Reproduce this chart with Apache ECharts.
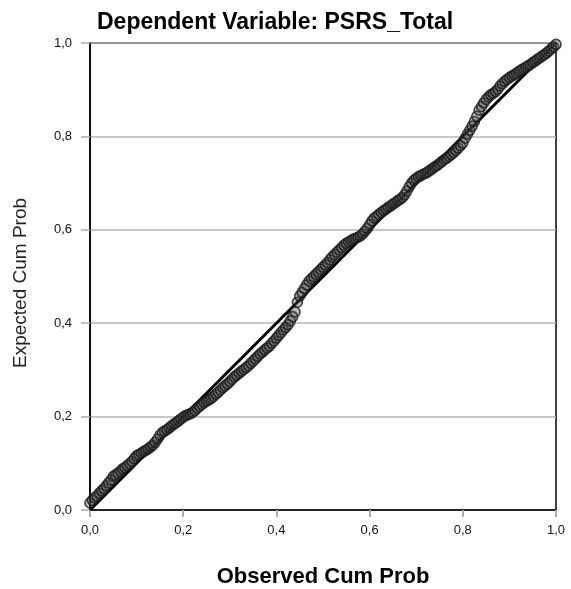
<!DOCTYPE html>
<html>
<head>
<meta charset="utf-8">
<script src="https://cdn.jsdelivr.net/npm/echarts@6/dist/echarts.min.js"></script>
<style>html,body{margin:0;padding:0;background:#fff}#c{width:571px;height:589px}</style>
</head>
<body>
<div id="c"></div>
<script>
var titleText = 'Dependent Variable: PSRS_Total';
var xName = 'Observed Cum Prob';
var yName = 'Expected Cum Prob';
var tickLabels = ['0,0','0,2','0,4','0,6','0,8','1,0'];

var observed = [
  0.000,0.005,0.010,0.015,0.020,0.025,0.030,0.035,0.040,0.045,
  0.050,0.055,0.060,0.065,0.070,0.075,0.080,0.085,0.090,0.095,
  0.100,0.105,0.110,0.115,0.120,0.125,0.130,0.135,0.140,0.145,
  0.150,0.155,0.160,0.165,0.170,0.175,0.180,0.185,0.190,0.195,
  0.200,0.205,0.210,0.215,0.220,0.225,0.230,0.235,0.240,0.245,
  0.250,0.255,0.260,0.265,0.270,0.275,0.280,0.285,0.290,0.295,
  0.300,0.305,0.310,0.315,0.320,0.325,0.330,0.335,0.340,0.345,
  0.350,0.355,0.360,0.365,0.370,0.375,0.380,0.385,0.390,0.395,
  0.400,0.405,0.410,0.415,0.420,0.425,0.430,0.435,0.440,0.445,
  0.450,0.455,0.460,0.465,0.470,0.475,0.480,0.485,0.490,0.495,
  0.500,0.505,0.510,0.515,0.520,0.525,0.530,0.535,0.540,0.545,
  0.550,0.555,0.560,0.565,0.570,0.575,0.580,0.585,0.590,0.595,
  0.600,0.605,0.610,0.615,0.620,0.625,0.630,0.635,0.640,0.645,
  0.650,0.655,0.660,0.665,0.670,0.675,0.680,0.685,0.690,0.695,
  0.700,0.705,0.710,0.715,0.720,0.725,0.730,0.735,0.740,0.745,
  0.750,0.755,0.760,0.765,0.770,0.775,0.780,0.785,0.790,0.795,
  0.800,0.805,0.810,0.815,0.820,0.825,0.830,0.835,0.840,0.845,
  0.850,0.855,0.860,0.865,0.870,0.875,0.880,0.885,0.890,0.895,
  0.900,0.905,0.910,0.915,0.920,0.925,0.930,0.935,0.940,0.945,
  0.950,0.955,0.960,0.965,0.970,0.975,0.980,0.985,0.990,0.995,
  1.000];
var expected = [
  0.015,0.021,0.026,0.030,0.036,0.041,0.046,0.052,0.058,0.064,
  0.072,0.075,0.079,0.083,0.088,0.091,0.095,0.099,0.104,0.110,
  0.116,0.119,0.122,0.125,0.128,0.131,0.135,0.139,0.145,0.152,
  0.160,0.166,0.169,0.172,0.176,0.180,0.184,0.187,0.191,0.195,
  0.199,0.202,0.204,0.206,0.209,0.213,0.218,0.222,0.226,0.230,
  0.233,0.236,0.239,0.243,0.248,0.252,0.257,0.262,0.266,0.270,
  0.275,0.280,0.285,0.289,0.293,0.297,0.301,0.305,0.309,0.314,
  0.319,0.324,0.329,0.334,0.338,0.343,0.347,0.351,0.357,0.362,
  0.368,0.374,0.380,0.386,0.391,0.397,0.405,0.414,0.424,0.445,
  0.458,0.466,0.474,0.482,0.490,0.495,0.500,0.505,0.510,0.515,
  0.520,0.525,0.530,0.536,0.542,0.547,0.552,0.557,0.562,0.567,
  0.571,0.574,0.577,0.580,0.582,0.584,0.587,0.591,0.597,0.603,
  0.611,0.619,0.625,0.629,0.633,0.637,0.641,0.644,0.648,0.651,
  0.655,0.658,0.662,0.665,0.669,0.675,0.683,0.692,0.700,0.706,
  0.710,0.714,0.716,0.719,0.721,0.724,0.728,0.731,0.735,0.738,
  0.742,0.746,0.750,0.753,0.757,0.761,0.765,0.770,0.775,0.780,
  0.786,0.796,0.805,0.813,0.822,0.832,0.843,0.856,0.864,0.872,
  0.879,0.884,0.889,0.892,0.896,0.901,0.908,0.913,0.918,0.922,
  0.926,0.929,0.932,0.935,0.939,0.942,0.945,0.948,0.951,0.954,
  0.958,0.961,0.965,0.968,0.972,0.975,0.979,0.983,0.988,0.992,
  0.997];
var refLine = [0, 1];

var points = observed.map(function (o, i) { return [o, expected[i]]; });

var chart = echarts.init(document.getElementById('c'), null, {renderer: 'canvas'});
var labelFmt = function (v) { return tickLabels[Math.round(v * 5)]; };
chart.setOption({
  animation: false,
  backgroundColor: '#ffffff',
  grid: {left: 90, right: 15, top: 43, bottom: 79, show: true, borderColor: '#000', borderWidth: 1.5, backgroundColor: '#fff'},
  title: {
    text: titleText, left: 92, top: 6,
    textStyle: {fontFamily: 'Liberation Sans', fontWeight: 'bold', fontSize: 23, color: '#000'}
  },
  graphic: [
    {type: 'text', x: 323, y: 566, style: {text: xName, textAlign: 'center', textVerticalAlign: 'top', fontFamily: 'Liberation Sans', fontWeight: 'bold', fontSize: 22, fill: '#000'}},
    {type: 'text', rotation: Math.PI / 2, x: 11, y: 283, style: {text: yName, textAlign: 'center', textVerticalAlign: 'top', fontFamily: 'Liberation Sans', fontSize: 19, fill: '#222'}}
  ],
  xAxis: {
    type: 'value', min: 0, max: 1, interval: 0.2,
    axisLine: {show: true, lineStyle: {color: '#000', width: 1.5}},
    axisTick: {show: true, length: 7, lineStyle: {color: '#aaa', width: 2}},
    axisLabel: {formatter: labelFmt, fontFamily: 'Liberation Sans', fontSize: 13, color: '#111', margin: 14},
    splitLine: {show: false}
  },
  yAxis: {
    type: 'value', min: 0, max: 1, interval: 0.2,
    axisLine: {show: true, lineStyle: {color: '#000', width: 1.5}},
    axisTick: {show: true, length: 9, lineStyle: {color: '#aaa', width: 1.5}},
    axisLabel: {formatter: labelFmt, fontFamily: 'Liberation Sans', fontSize: 13, color: '#111', margin: 18},
    splitLine: {show: true, lineStyle: {color: '#b4b4b4', width: 1.5}}
  },
  series: [
    {
      type: 'line', data: [[refLine[0], refLine[0]], [refLine[1], refLine[1]]],
      symbol: 'none', lineStyle: {color: '#000', width: 3}, z: 3, silent: true
    },
    {
      type: 'scatter', data: points, symbol: 'circle', symbolSize: 10,
      itemStyle: {color: 'rgba(70,70,70,0.45)', borderColor: '#1a1a1a', borderWidth: 1.6}, z: 4, silent: true
    }
  ]
});
</script>
</body>
</html>
